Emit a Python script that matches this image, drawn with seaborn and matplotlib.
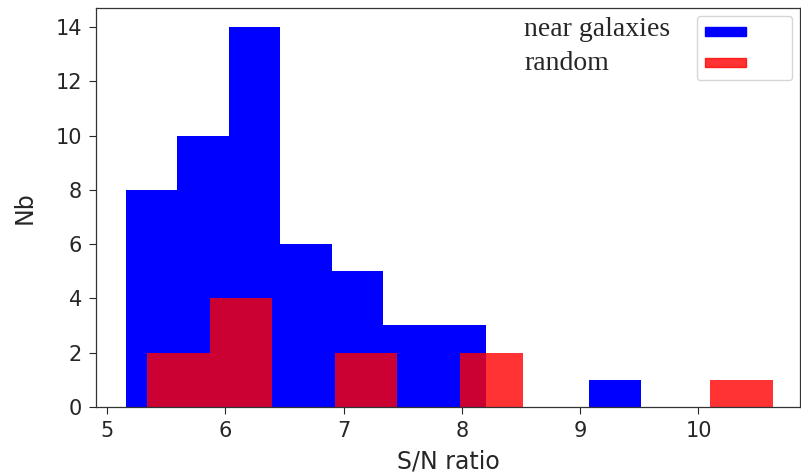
import matplotlib
matplotlib.use("Agg")
import matplotlib.pyplot as plt
import numpy as np
import pandas as pd
import seaborn as sns

# histogram data (bin range + counts per bin)
near_range = (5.16, 9.51)
near_counts = [8, 10, 14, 6, 5, 3, 3, 0, 0, 1]
rand_range = (5.338, 10.63)
rand_counts = [2, 4, 0, 2, 0, 2, 0, 0, 0, 1]
labels = ["near galaxies", "random"]


def centers(rng, counts):
    edges = np.linspace(rng[0], rng[1], len(counts) + 1)
    return (edges[:-1] + edges[1:]) / 2


sns.set_style("ticks")
fig = plt.figure(figsize=(8.01, 4.72), dpi=100)
ax = fig.add_axes([0.12, 0.138, 0.879, 0.845])

sns.histplot(x=centers(near_range, near_counts), weights=near_counts,
             bins=len(near_counts), binrange=near_range, color="#0000ff",
             alpha=1.0, linewidth=0, ax=ax)
sns.histplot(x=centers(rand_range, rand_counts), weights=rand_counts,
             bins=len(rand_counts), binrange=rand_range, color="#ff0000",
             alpha=0.8, linewidth=0, ax=ax)

ax.set_xlim(4.907, 10.86)
ax.set_ylim(0, 14.7)
ax.set_yticks(range(0, 15, 2))
ax.set_xticks(range(5, 11))
ax.tick_params(labelsize=15, colors="#262626", labelcolor="#262626",
               length=5, pad=5)
ax.set_xlabel("S/N ratio", fontsize=17, color="#262626", labelpad=6)
ax.set_ylabel("Nb", fontsize=17, color="#262626", labelpad=14)
for s in ax.spines.values():
    s.set_color("#333333")
    s.set_linewidth(0.9)

handles = [plt.Rectangle((0, 0), 1, 1, color="#0000ff"),
           plt.Rectangle((0, 0), 1, 1, color="#ff0000", alpha=0.8)]
ax.legend(handles, ["      ", "      "], loc="upper right", fontsize=12,
          handlelength=2.5, handleheight=0.45, labelspacing=0.75,
          borderpad=0.45, handletextpad=0.4, frameon=True)

ax.text(0.608, 0.945, labels[0], transform=ax.transAxes, fontsize=20,
        family="Liberation Serif", va="center")
ax.text(0.608, 0.86, labels[1], transform=ax.transAxes, fontsize=20,
        family="Liberation Serif", va="center")

fig.savefig("out.png", dpi=100)
